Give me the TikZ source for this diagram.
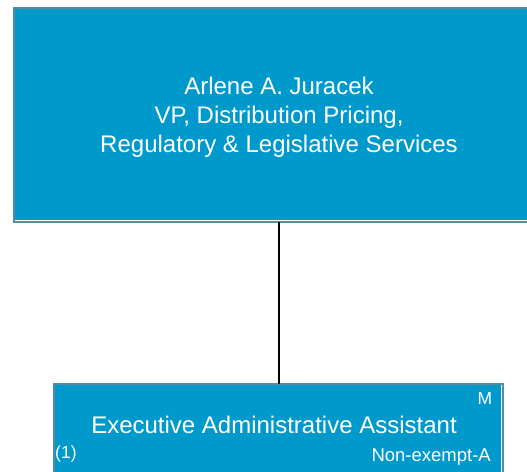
\documentclass[tikz,border=0pt]{standalone}
\usepackage{fontspec}
\setmainfont{Liberation Sans}
\usetikzlibrary{positioning}
\usetikzlibrary{calc}

\definecolor{boxblue}{RGB}{0,153,204}
\definecolor{boxedge}{RGB}{84,140,163}

\tikzset{
  orgbox/.style={draw=boxedge, line width=2pt, fill=boxblue, outer sep=0pt, inner sep=0pt},
  bevel/.style={white, line width=1pt},
  bigtext/.style={white, align=center, inner sep=0pt, font=\fontsize{24}{29}\selectfont},
  smalltext/.style={white, inner sep=0pt, font=\fontsize{17.5}{20}\selectfont}
}

\begin{document}
\begin{tikzpicture}[x=1pt, y=-1pt]
  \useasboundingbox (0,0) rectangle (527,471);

  %top box
  \node[orgbox, minimum width=530pt, minimum height=214pt] (vp) at (279,115) {};
  \draw[bevel] ($(vp.south west)+(1,-1.5)$) -- ($(vp.south east)+(-1,-1.5)$);
  \node[bigtext, anchor=base] (vpname) at (279,152)
     {Arlene A. Juracek\\VP, Distribution Pricing,\\Regulatory \& Legislative Services};

  %assistant box
  \node[orgbox, minimum width=449pt, minimum height=106pt, anchor=north] (assist) at (278.5,384) {};
  \draw[bevel] ($(assist.north east)+(-1.5,1)$) -- ($(assist.south east)+(-1.5,-1)$);

  \node[bigtext, anchor=base] (assisttitle) at (274,433.3) {Executive Administrative Assistant};
  \node[smalltext, anchor=base east] (grade) at (492.5,404) {M};
  \node[smalltext, anchor=base west] (count) at (55,458) {(1)};
  \node[smalltext, anchor=base east, font=\fontsize{18.5}{21}\selectfont] (status) at (491,461.7) {Non-exempt-A};

  %connector
  \draw[line width=2pt] (vp.south) -- (vp.south |- assist.north);
\end{tikzpicture}
\end{document}
